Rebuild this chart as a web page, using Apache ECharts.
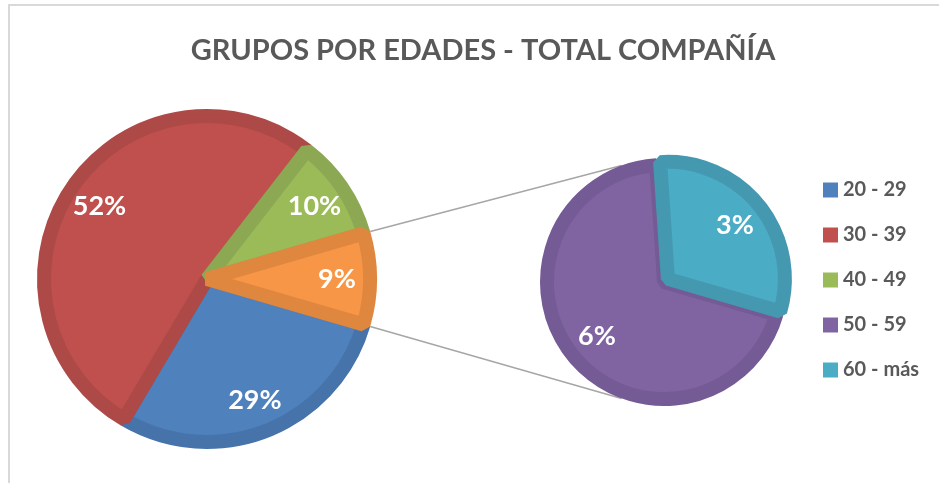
<!DOCTYPE html>
<html>
<head>
<meta charset="utf-8">
<script src="https://cdn.jsdelivr.net/npm/echarts@6/dist/echarts.min.js"></script>
<style>
  html, body { margin: 0; padding: 0; background: #fff; }
  #main { width: 939px; height: 483px; }
</style>
</head>
<body>
<div id="main"></div>
<script>
// datos
var titleText = 'GRUPOS POR EDADES - TOTAL COMPAÑÍA';
var legendNames = ['20 - 29', '30 - 39', '40 - 49', '50 - 59', '60 - más'];
var mainNames = ['20 - 29', '30 - 39', '40 - 49', 'Otros'];
var mainValues = [29, 52, 10, 9];
var subNames = ['50 - 59', '60 - más'];
var subValues = [6.25, 2.75];

// estilos
var fills = {
  '20 - 29': '#4f81bd', '30 - 39': '#c0504d', '40 - 49': '#9bbb59',
  'Otros': '#f79646', '50 - 59': '#8064a2', '60 - más': '#4bacc6'
};
var borders = {
  '20 - 29': '#4673aa', '30 - 39': '#ad4a47', '40 - 49': '#8ca853',
  'Otros': '#e0873f', '50 - 59': '#755b95', '60 - más': '#4499b1'
};
var font = 'Lato, "Open Sans", sans-serif';
var mainCenter = [207, 279], mainR = 163;
var subCenter = [664, 282], subR = 117;
var bw = 14;

var chart = echarts.init(document.getElementById('main'));

var total = mainValues.reduce(function (a, b) { return a + b; }, 0);
var half = mainValues[3] / total * 180;   // mitad del sector "otros"

function pct(p) { return Math.round(p.value) + '%'; }

function styled(names, values, sel) {
  return names.map(function (n, i) {
    var st = { color: fills[n], borderColor: borders[n], borderWidth: bw, borderJoin: 'bevel' };
    var d = { name: n, value: values[i], itemStyle: st };
    if (sel && sel === n) {
      d.selected = true;
      d.select = { itemStyle: st };
    }
    return d;
  });
}
function ghost(names, values, sel) {
  return names.map(function (n, i) {
    var d = { name: n, value: values[i] };
    if (sel && sel === n) d.selected = true;
    return d;
  });
}

// lineas de conexion
var rOutMain = mainR + bw / 2, rOutSub = subR + bw / 2;
var a = half * Math.PI / 180, b = 110 * Math.PI / 180;
var p1 = [mainCenter[0] + rOutMain * Math.cos(a), mainCenter[1] - rOutMain * Math.sin(a)];
var p2 = [mainCenter[0] + rOutMain * Math.cos(a), mainCenter[1] + rOutMain * Math.sin(a)];
var q1 = [subCenter[0] + rOutSub * Math.cos(b), subCenter[1] - rOutSub * Math.sin(b)];
var q2 = [subCenter[0] + rOutSub * Math.cos(b), subCenter[1] + rOutSub * Math.sin(b)];

var labelStyle = {
  show: true, position: 'inside', formatter: pct,
  color: '#fff', fontFamily: font, fontWeight: 'bold', fontSize: 27
};

var option = {
  animation: false,
  backgroundColor: '#fff',
  title: {
    text: titleText,
    left: 478, top: 31, textAlign: 'center',
    textStyle: { color: '#595959', fontFamily: font, fontWeight: 'bold', fontSize: 29 }
  },
  legend: {
    data: legendNames,
    orient: 'vertical',
    left: 818, top: 175,
    icon: 'rect', itemWidth: 15, itemHeight: 15, itemGap: 25,
    selectedMode: false,
    itemStyle: { borderWidth: 0 },
    textStyle: { color: '#595959', fontFamily: font, fontWeight: 'bold', fontSize: 20 }
  },
  graphic: [
    { type: 'polyline', silent: true, shape: { points: [[9, 490], [9, 5], [945, 5]] },
      style: { fill: null, stroke: '#d9d9d9', lineWidth: 2 } },
    { type: 'line', silent: true, z: 0, shape: { x1: p1[0], y1: p1[1], x2: q1[0], y2: q1[1] },
      style: { stroke: '#a6a6a6', lineWidth: 1.5 } },
    { type: 'line', silent: true, z: 0, shape: { x1: p2[0], y1: p2[1], x2: q2[0], y2: q2[1] },
      style: { stroke: '#a6a6a6', lineWidth: 1.5 } }
  ],
  series: [
    {
      type: 'pie', center: mainCenter, radius: [0, mainR],
      startAngle: -half, clockwise: true, silent: true,
      label: { show: false }, labelLine: { show: false },
      emphasis: { disabled: true },
      data: styled(mainNames, mainValues)
    },
    {
      type: 'pie', center: subCenter, radius: [0, subR],
      startAngle: -half, clockwise: true, silent: true,
      selectedMode: 'single', selectedOffset: 5,
      label: { show: false }, labelLine: { show: false },
      emphasis: { disabled: true },
      data: styled(subNames, subValues, '60 - más')
    },
    {
      type: 'pie', center: mainCenter, radius: [104, 150],
      startAngle: -half, clockwise: true, silent: true, z: 5,
      itemStyle: { color: 'rgba(0,0,0,0)' },
      label: labelStyle, labelLine: { show: false },
      emphasis: { disabled: true },
      data: ghost(mainNames, mainValues)
    },
    {
      type: 'pie', center: subCenter, radius: [60, 106],
      startAngle: -half, clockwise: true, silent: true, z: 5,
      selectedMode: 'single', selectedOffset: 5,
      itemStyle: { color: 'rgba(0,0,0,0)' },
      select: { itemStyle: { color: 'rgba(0,0,0,0)' } },
      label: labelStyle, labelLine: { show: false },
      emphasis: { disabled: true },
      data: ghost(subNames, subValues, '60 - más')
    }
  ]
};

chart.setOption(option);
</script>
</body>
</html>
